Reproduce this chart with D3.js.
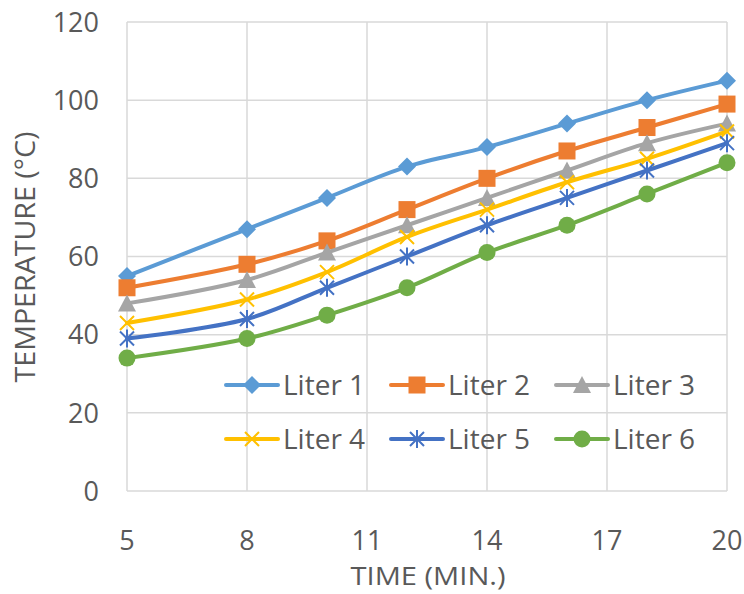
<!DOCTYPE html>
<html>
<head>
<meta charset="utf-8">
<script src="https://cdn.jsdelivr.net/npm/d3@7"></script>
<style>
  body { margin: 0; background: #fff; }
  text { font-family: "Open Sans", "Liberation Sans", sans-serif; fill: #595959; }
</style>
</head>
<body>
<div class="chart"></div>
<script>
(function(){

  // data
  var times = [5, 8, 10, 12, 14, 16, 18, 20];
  var seriesNames = ['Liter 1', 'Liter 2', 'Liter 3', 'Liter 4', 'Liter 5', 'Liter 6'];
  var liter1 = [55, 67, 75, 83, 88, 94, 100, 105];
  var liter2 = [52, 58, 64, 72, 80, 87, 93, 99];
  var liter3 = [48, 54, 61, 68, 75, 82, 89, 94];
  var liter4 = [43, 49, 56, 65, 72, 79, 85, 92];
  var liter5 = [39, 44, 52, 60, 68, 75, 82, 89];
  var liter6 = [34, 39, 45, 52, 61, 68, 76, 84];
  var xTicks = [5, 8, 11, 14, 17, 20];
  var yTicks = [0, 20, 40, 60, 80, 100, 120];

  var allValues = [liter1, liter2, liter3, liter4, liter5, liter6];
  var colors = ['#5B9BD5', '#ED7D31', '#A5A5A5', '#FFC000', '#4472C4', '#70AD47'];
  var markers = ['diamond', 'square', 'triangle', 'x', 'star', 'circle'];

  var width = 744, height = 594;
  var plot = { left: 127, right: 727, top: 22, bottom: 491 };

  var svg = d3.select('.chart')
    .append('svg')
    .attr('width', width)
    .attr('height', height);

  var x = d3.scaleLinear().domain([5, 20]).range([plot.left, plot.right]);
  var y = d3.scaleLinear().domain([0, 120]).range([plot.bottom, plot.top]);

  // grid
  var grid = svg.append('g').attr('stroke', '#d9d9d9').attr('stroke-width', 1.5);
  grid.selectAll('.h').data(yTicks).enter().append('line')
    .attr('x1', plot.left).attr('x2', plot.right)
    .attr('y1', function(d){ return y(d); })
    .attr('y2', function(d){ return y(d); });
  grid.selectAll('.v').data(xTicks).enter().append('line')
    .attr('y1', plot.top).attr('y2', plot.bottom)
    .attr('x1', function(d){ return x(d); })
    .attr('x2', function(d){ return x(d); });

  // tick labels
  svg.selectAll('.ytick').data(yTicks).enter().append('text')
    .attr('x', 99)
    .attr('y', function(d){ return y(d); })
    .attr('dy', '0.36em')
    .attr('text-anchor', 'end')
    .attr('font-size', 27)
    .text(function(d){ return d; });

  svg.selectAll('.xtick').data(xTicks).enter().append('text')
    .attr('x', function(d){ return x(d); })
    .attr('y', 540)
    .attr('dy', '0.36em')
    .attr('text-anchor', 'middle')
    .attr('font-size', 27)
    .text(function(d){ return d; });

  // axis titles
  svg.append('text')
    .attr('x', 428).attr('y', 585)
    .attr('text-anchor', 'middle')
    .attr('font-size', 26)
    .attr('textLength', 155)
    .attr('lengthAdjust', 'spacingAndGlyphs')
    .text('TIME (MIN.)');

  svg.append('text')
    .attr('transform', 'translate(35,257) rotate(-90)')
    .attr('text-anchor', 'middle')
    .attr('font-size', 27)
    .attr('textLength', 251)
    .attr('lengthAdjust', 'spacingAndGlyphs')
    .text('TEMPERATURE (\u00B0C)');

  // marker shapes
  var drawMarker = function(g, type, color){
    if(type === 'diamond'){
      g.append('path').attr('d', 'M0,-9L9,0L0,9L-9,0Z').attr('fill', color);
    } else if(type === 'square'){
      g.append('rect').attr('x', -8.5).attr('y', -8.5).attr('width', 17).attr('height', 17).attr('fill', color);
    } else if(type === 'triangle'){
      g.append('path').attr('d', 'M0,-9L9,8L-9,8Z').attr('fill', color);
    } else if(type === 'circle'){
      g.append('circle').attr('r', 8.5).attr('fill', color);
    } else if(type === 'x'){
      g.append('path').attr('d', 'M-7,-7L7,7M-7,7L7,-7')
        .attr('stroke', color).attr('stroke-width', 2).attr('fill', 'none');
    } else if(type === 'star'){
      g.append('path').attr('d', 'M-7,-7L7,7M-7,7L7,-7M0,-9L0,9')
        .attr('stroke', color).attr('stroke-width', 2).attr('fill', 'none');
    }
  };

  var line = d3.line()
    .x(function(d){ return x(d[0]); })
    .y(function(d){ return y(d[1]); })
    .curve(d3.curveCatmullRom.alpha(0.5));

  allValues.forEach(function(vals, i){
    var pts = times.map(function(t, j){ return [t, vals[j]]; });
    var g = svg.append('g');
    g.append('path')
      .attr('d', line(pts))
      .attr('fill', 'none')
      .attr('stroke', colors[i])
      .attr('stroke-width', 4)
      .attr('stroke-linejoin', 'round')
      .attr('stroke-linecap', 'round');
    pts.forEach(function(p){
      var m = g.append('g').attr('transform', 'translate(' + x(p[0]) + ',' + y(p[1]) + ')');
      drawMarker(m, markers[i], colors[i]);
    });
  });

  // legend
  var legX = [226, 391, 556];
  var legY = [385, 439];
  seriesNames.forEach(function(name, i){
    var lx = legX[i % 3], ly = legY[Math.floor(i / 3)];
    var g = svg.append('g').attr('transform', 'translate(' + lx + ',' + ly + ')');
    g.append('line')
      .attr('x1', 0).attr('x2', 52)
      .attr('stroke', colors[i])
      .attr('stroke-width', 4)
      .attr('stroke-linecap', 'round');
    var m = g.append('g').attr('transform', 'translate(26,0)');
    drawMarker(m, markers[i], colors[i]);
    g.append('text')
      .attr('x', 57)
      .attr('dy', '0.36em')
      .attr('font-size', 28)
      .text(name);
  });

}());
</script>
</body>
</html>
